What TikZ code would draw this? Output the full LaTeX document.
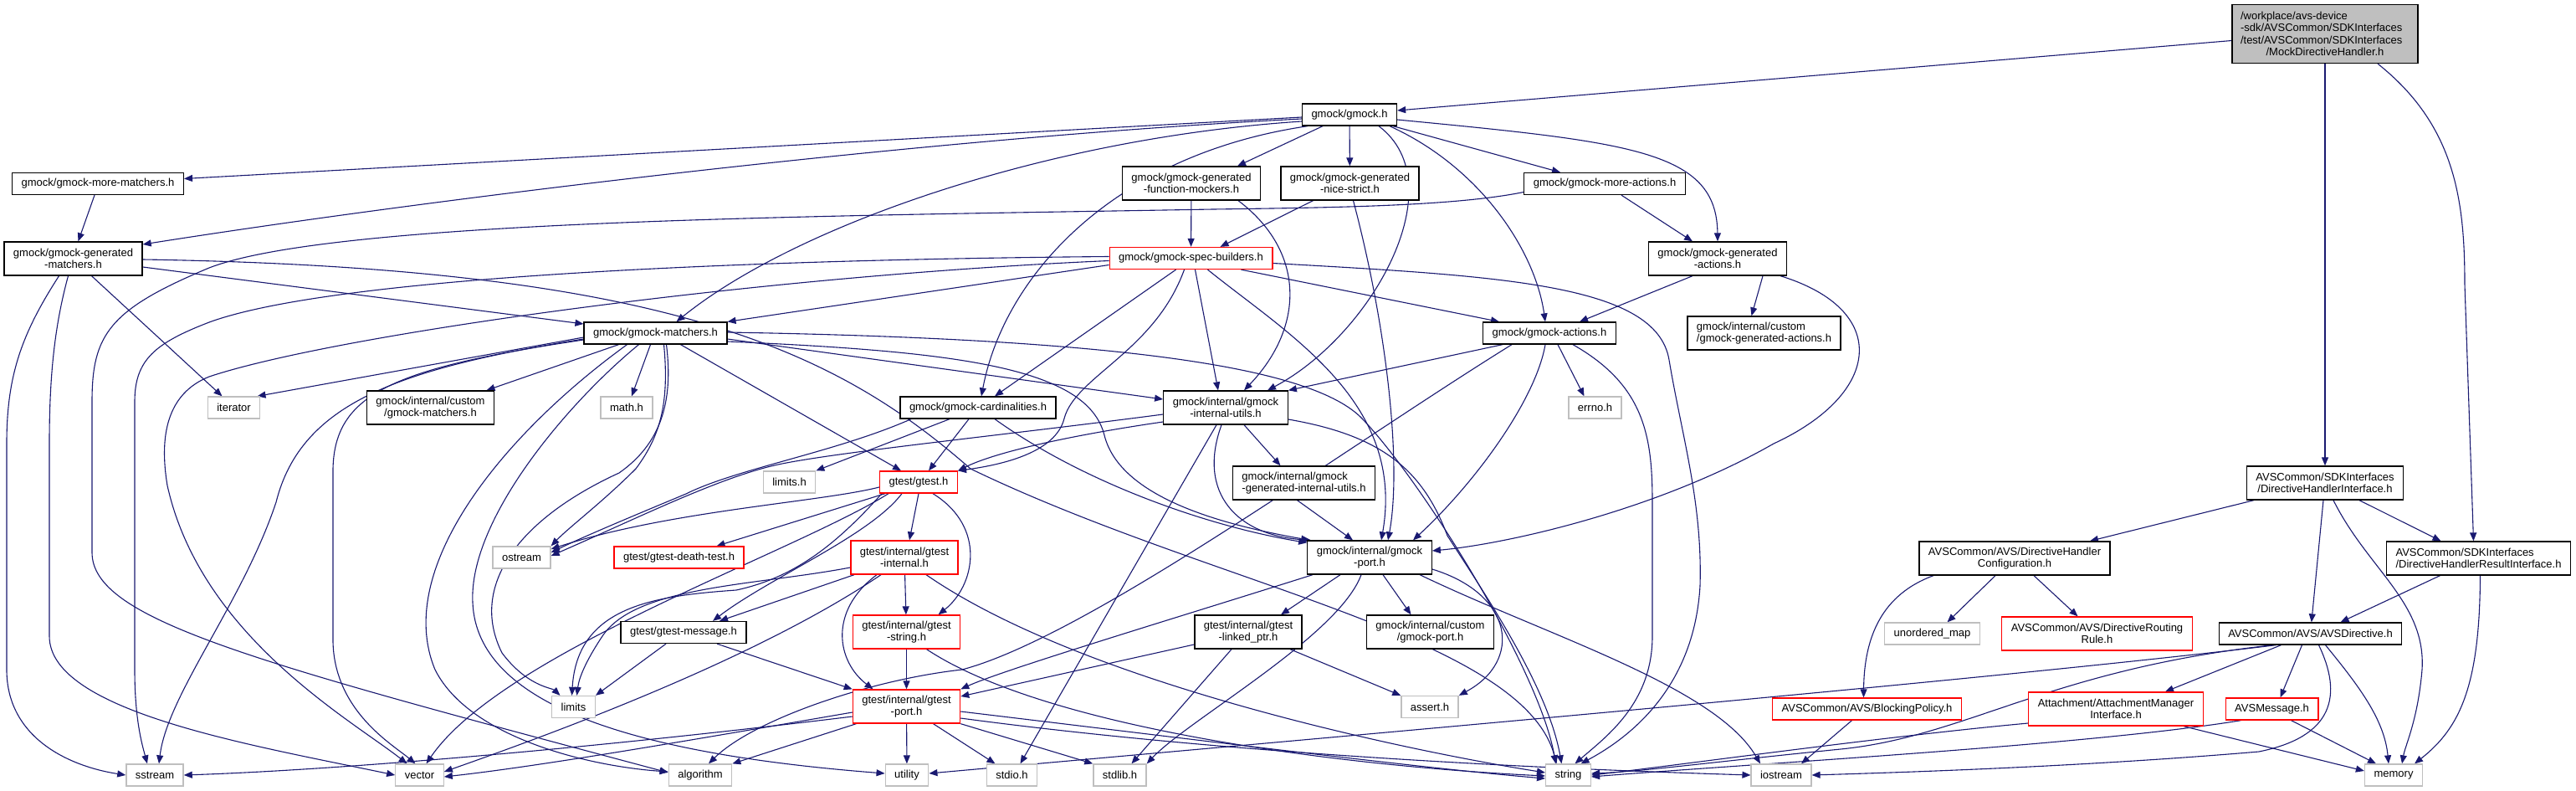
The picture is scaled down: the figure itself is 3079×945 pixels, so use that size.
\documentclass[tikz,border=0pt]{standalone}
\usepackage{fontspec}
\setmainfont{Liberation Sans}
\usetikzlibrary{arrows.meta}
\definecolor{edgeblue}{RGB}{25,25,112}
\definecolor{sysgrey}{RGB}{191,191,191}
\pgfdeclarelayer{bg}
\pgfsetlayers{bg,main}

\begin{document}
\begin{tikzpicture}[x=1pt, y=-1pt,
    hdr/.style={draw=black, fill=white, line width=1.3pt, font=\fontsize{13}{14}\selectfont, inner xsep=11pt, inner ysep=3pt, minimum height=26pt},
    part/.style={hdr, draw=red},
    sys/.style={hdr, draw=sysgrey},
    two/.style={align=center, minimum height=40pt},
    arr/.style={-{Triangle[length=10pt,width=8pt]}, edgeblue, line width=1.1pt}
  ]
  \useasboundingbox (0,0) rectangle (3079,945);

  \node[hdr, fill=sysgrey, align=left, text width=202pt, inner xsep=10pt, minimum height=70pt, font=\fontsize{13}{14.5}\selectfont] (main) at (2779,40.5)
    {/workplace/avs-device\\-sdk/AVSCommon/SDKInterfaces\\/test/AVSCommon/SDKInterfaces\\\makebox[202pt]{/MockDirectiveHandler.h}};

  \node[hdr] (gmock) at (1613,137) {gmock/gmock.h};
  \node[hdr] (moreMatchers) at (117,219.5) {gmock/gmock-more-matchers.h};
  \node[hdr, two] (funcMockers) at (1424,219) {gmock/gmock-generated\\-function-mockers.h};
  \node[hdr, two] (niceStrict) at (1613.5,219) {gmock/gmock-generated\\-nice-strict.h};
  \node[hdr] (moreActions) at (1918,219.5) {gmock/gmock-more-actions.h};
  \node[hdr, two] (genMatchers) at (87.5,309) {gmock/gmock-generated\\-matchers.h};
  \node[part] (specBuilders) at (1423.5,308.5) {gmock/gmock-spec-builders.h};
  \node[hdr, two] (genActions) at (2053,309) {gmock/gmock-generated\\-actions.h};
  \node[hdr] (matchers) at (783.5,398) {gmock/gmock-matchers.h};
  \node[hdr] (actions) at (1852,398) {gmock/gmock-actions.h};
  \node[hdr, two, align=left] (customGenActions) at (2108.5,398) {gmock/internal/custom\\/gmock-generated-actions.h};
  \node[sys] (iterator) at (279.5,487) {iterator};
  \node[hdr, two] (customMatchers) at (514.5,487) {gmock/internal/custom\\/gmock-matchers.h};
  \node[sys] (mathh) at (749,487) {math.h};
  \node[hdr] (cardinalities) at (1169,487) {gmock/gmock-cardinalities.h};
  \node[hdr, two] (internalUtils) at (1465,487) {gmock/internal/gmock\\-internal-utils.h};
  \node[sys] (errno) at (1906.5,487) {errno.h};
  \node[sys] (limitsh) at (943.5,576) {limits.h};
  \node[part] (gtest) at (1098,576) {gtest/gtest.h};
  \node[hdr, two, align=left] (genInternalUtils) at (1558.5,577) {gmock/internal/gmock\\-generated-internal-utils.h};
  \node[hdr, two] (dhInterface) at (2779,577) {AVSCommon/SDKInterfaces\\/DirectiveHandlerInterface.h};
  \node[sys] (ostream) at (623.5,666) {ostream};
  \node[part] (deathTest) at (811.5,666) {gtest/gtest-death-test.h};
  \node[part, two] (gtestInternal) at (1081,666) {gtest/internal/gtest\\-internal.h};
  \node[hdr, two] (gmockPort) at (1637,666) {gmock/internal/gmock\\-port.h};
  \node[hdr, two] (dhConfig) at (2408,667) {AVSCommon/AVS/DirectiveHandler\\Configuration.h};
  \node[hdr, two, align=left] (dhResult) at (2962.5,667) {AVSCommon/SDKInterfaces\\/DirectiveHandlerResultInterface.h};
  \node[hdr] (gtestMessage) at (817,755.5) {gtest/gtest-message.h};
  \node[part, two] (gtestString) at (1083.5,755) {gtest/internal/gtest\\-string.h};
  \node[hdr, two] (linkedPtr) at (1492,755) {gtest/internal/gtest\\-linked\_ptr.h};
  \node[hdr, two] (customGmockPort) at (1709.5,755) {gmock/internal/custom\\/gmock-port.h};
  \node[sys] (unorderedMap) at (2309.5,757) {unordered\_map};
  \node[part, two] (routingRule) at (2506.5,757) {AVSCommon/AVS/DirectiveRouting\\Rule.h};
  \node[hdr] (avsDirective) at (2761.5,757) {AVSCommon/AVS/AVSDirective.h};
  \node[sys] (limits) at (685.5,844.5) {limits};
  \node[part, two] (gtestPort) at (1083.5,844) {gtest/internal/gtest\\-port.h};
  \node[sys] (assert) at (1709,844.5) {assert.h};
  \node[part] (blockingPolicy) at (2231.5,847) {AVSCommon/AVS/BlockingPolicy.h};
  \node[part, two] (attachmentMgr) at (2529,847) {Attachment/AttachmentManager\\Interface.h};
  \node[part] (avsMessage) at (2715.5,847) {AVSMessage.h};
  \foreach \n/\t/\x in {sstream/sstream/185, vector/vector/501.5, algorithm/algorithm/837, utility/utility/1084,
      stdio/stdio.h/1209.5, stdlib/stdlib.h/1338.5, string/string/1874.5, iostream/iostream/2129, memory/memory/2861} {
    \node[sys] (\n) at (\x,926) {\t};
  }

  \begin{pgfonlayer}{bg}
  \draw[arr] ([yshift=-8pt]main.west) -- ([yshift=5pt]gmock.east);
  \draw[arr] (main) -- (dhInterface);
  \draw[arr] ([xshift=63pt]main.south) .. controls (2935,150) and (2946,240) .. (2946,340) -- ([xshift=-6pt]dhResult.north);

  \draw[arr] ([yshift=-3pt]gmock.west) -- ([yshift=6pt]moreMatchers.east);
  \draw[arr] ([yshift=-5pt]gmock.west) .. controls (1100,165) and (500,240) .. ([yshift=17pt]genMatchers.east);
  \draw[arr] ([yshift=-8pt]gmock.west) .. controls (1250,165) and (950,270) .. ([xshift=25pt]matchers.north);
  \draw[arr] ([xshift=-50pt]gmock.south) .. controls (1330,185) and (1200,330) .. ([xshift=4pt]cardinalities.north);
  \draw[arr] ([xshift=-32pt]gmock.south) -- ([xshift=55pt]funcMockers.north);
  \draw[arr] (gmock) -- (niceStrict);
  \draw[arr] ([xshift=35pt]gmock.south) .. controls (1740,220) and (1640,400) .. ([xshift=50pt]internalUtils.north);
  \draw[arr] ([xshift=48pt]gmock.south) .. controls (1770,200) and (1835,300) .. ([xshift=-5pt]actions.north);
  \draw[arr] ([xshift=52pt]gmock.south) -- ([xshift=-53pt]moreActions.north);
  \draw[arr] ([yshift=-6pt]gmock.east) .. controls (1950,170) and (2052,180) .. (genActions.north);

  \draw[arr] ([xshift=-4pt]moreMatchers.south) -- ([xshift=6pt]genMatchers.north);

  \draw[arr] ([yshift=-10pt]genMatchers.east) -- ([yshift=11pt]matchers.west);
  \draw[arr] ([yshift=-1pt]genMatchers.east) .. controls (800,320) and (1000,420) .. (1160,560) .. controls (1450,700) and (1820,760) .. ([xshift=-14pt]string.north);
  \draw[arr] ([xshift=22pt]genMatchers.south) -- ([xshift=-14pt]iterator.north);
  \draw[arr] ([xshift=-17pt]genMatchers.south) .. controls (25,400) and (8,450) .. (8,530) -- (8,800) .. controls (8,880) and (80,915) .. (sstream.west);
  \draw[arr] ([xshift=-6pt]genMatchers.south) .. controls (65,390) and (59,450) .. (59,530) -- (59,760) .. controls (59,850) and (300,890) .. (vector.west);

  \draw[arr] ([yshift=-5pt]matchers.west) -- ([xshift=28pt]iterator.north);
  \draw[arr] ([xshift=-44pt]matchers.south) -- ([xshift=67pt]customMatchers.north);
  \draw[arr] ([xshift=-6pt]matchers.south) -- ([xshift=6pt]mathh.north);
  \draw[arr] ([yshift=-7pt]matchers.west) .. controls (480,440) and (360,480) .. (330,600) .. controls (290,720) and (200,830) .. ([xshift=5pt]sstream.north);
  \draw[arr] ([yshift=-8pt]matchers.west) .. controls (470,440) and (400,470) .. (398,560) -- (398,767) .. controls (400,850) and (470,890) .. ([xshift=-5pt]vector.north);
  \draw[arr] ([xshift=10pt]matchers.south) .. controls (800,480) and (790,520) .. (760,560) .. controls (720,600) and (680,630) .. (ostream.north east);
  \draw[arr] ([xshift=13pt]matchers.south) .. controls (805,480) and (790,530) .. (740,565) .. controls (620,620) and (560,700) .. (600,780) .. controls (630,820) and (660,822) .. ([xshift=-16pt]limits.north);
  \draw[arr] ([xshift=-34pt]matchers.south) .. controls (600,520) and (470,680) .. (520,800) .. controls (560,880) and (700,915) .. ([yshift=4pt]algorithm.west);
  \draw[arr] ([xshift=-20pt]matchers.south) .. controls (680,480) and (560,620) .. (565,720) .. controls (570,840) and (750,900) .. ([yshift=2pt]utility.west);
  \draw[arr] ([yshift=1pt]matchers.east) .. controls (1350,405) and (1570,440) .. (1628,500) .. controls (1700,575) and (1840,800) .. ([xshift=-15pt]string.north);
  \draw[arr] ([yshift=-7pt]matchers.east) -- ([yshift=10pt]internalUtils.west);
  \draw[arr] ([yshift=-10pt]matchers.east) .. controls (1150,420) and (1300,440) .. (1320,520) .. controls (1340,600) and (1480,630) .. ([xshift=3pt]gmockPort.north west);
  \draw[arr] ([xshift=30pt]matchers.south) -- ([xshift=-21pt]gtest.north);

  \draw[arr] ([yshift=-8pt]specBuilders.west) -- (matchers.north east);
  \draw[arr] ([yshift=2pt]specBuilders.west) .. controls (900,310) and (400,330) .. (250,385) .. controls (185,410) and (161,430) .. (161,480) -- (161,800) .. controls (161,860) and (170,890) .. ([xshift=-9pt]sstream.north);
  \draw[arr] ([yshift=-3pt]specBuilders.west) .. controls (900,330) and (400,400) .. (250,450) .. controls (200,470) and (190,520) .. (200,580) .. controls (240,760) and (420,860) .. ([xshift=-15pt]vector.north);
  \draw[arr] ([yshift=-6pt]specBuilders.east) .. controls (1800,330) and (1980,340) .. (1995,430) .. controls (2010,520) and (2035,600) .. (2032,700) .. controls (2025,820) and (1950,880) .. ([xshift=15pt]string.north);
  \draw[arr] ([xshift=60pt]specBuilders.south) -- ([xshift=-60pt]actions.north);
  \draw[arr] ([xshift=-18pt]specBuilders.south) -- ([xshift=20pt]cardinalities.north);
  \draw[arr] ([xshift=-8pt]specBuilders.south) .. controls (1380,420) and (1285,450) .. (1272,500) .. controls (1262,540) and (1200,555) .. (gtest.north east);
  \draw[arr] ([xshift=5pt]specBuilders.south) -- ([xshift=-9pt]internalUtils.north);
  \draw[arr] ([xshift=20pt]specBuilders.south) .. controls (1540,400) and (1680,480) .. ([xshift=14pt]gmockPort.north);

  \draw[arr] (funcMockers) -- (specBuilders);
  \draw[arr] ([xshift=56pt]funcMockers.south) .. controls (1560,300) and (1560,390) .. ([xshift=22pt]internalUtils.north);
  \draw[arr] ([xshift=-44pt]niceStrict.south) -- ([xshift=35pt]specBuilders.north);
  \draw[arr] ([xshift=4pt]niceStrict.south) .. controls (1660,400) and (1675,560) .. ([xshift=22pt]gmockPort.north);

  \draw[arr] ([xshift=20pt]moreActions.south) -- ([xshift=-30pt]genActions.north);
  \draw[arr] ([yshift=-10pt]moreActions.west) .. controls (1740,246) and (1600,248) .. (1450,250) .. controls (1000,258) and (400,262) .. (250,320) .. controls (130,370) and (110,400) .. (110,480) -- (110,660) .. controls (110,740) and (300,790) .. ([yshift=3pt]algorithm.west);

  \draw[arr] ([xshift=-30pt]genActions.south) -- ([xshift=36pt]actions.north);
  \draw[arr] ([xshift=54pt]genActions.south) -- ([xshift=-15pt]customGenActions.north);
  \draw[arr] ([xshift=75pt]genActions.south) .. controls (2260,370) and (2250,470) .. (2120,530) .. controls (1980,610) and (1800,650) .. ([yshift=8pt]gmockPort.east);

  \draw[arr] ([xshift=10pt]actions.south) -- ([xshift=-13pt]errno.north);
  \draw[arr] ([xshift=-56pt]actions.south) -- (internalUtils.north east);
  \draw[arr] ([xshift=-5pt]actions.south) .. controls (1835,480) and (1760,580) .. ([xshift=52pt]gmockPort.north);
  \draw[arr] ([xshift=-45pt]actions.south) .. controls (1600,540) and (1300,760) .. (1150,800) .. controls (1040,812) and (900,860) .. ([xshift=10pt]algorithm.north);
  \draw[arr] ([xshift=28pt]actions.south) .. controls (1965,460) and (1975,520) .. (1975,600) -- (1975,760) .. controls (1975,840) and (1920,880) .. ([xshift=8pt]string.north);

  \draw[arr] ([xshift=-34pt]cardinalities.south) -- (limitsh.north east);
  \draw[arr] ([xshift=-80pt]cardinalities.south) .. controls (1000,540) and (880,560) .. (820,590) .. controls (760,615) and (700,640) .. ([yshift=6pt]ostream.east);
  \draw[arr] ([xshift=-11pt]cardinalities.south) -- ([xshift=12pt]gtest.north);
  \draw[arr] ([xshift=20pt]cardinalities.south) .. controls (1300,580) and (1450,630) .. ([yshift=-3pt]gmockPort.north west);

  \draw[arr] ([xshift=-11pt]internalUtils.south) -- ([xshift=10pt]stdio.north);
  \draw[arr] ([xshift=22pt]internalUtils.south) -- ([xshift=-28pt]genInternalUtils.north);
  \draw[arr] ([xshift=-5pt]internalUtils.south) .. controls (1430,590) and (1480,640) .. ([xshift=5pt]gmockPort.north west);
  \draw[arr] ([yshift=-14pt]internalUtils.east) .. controls (1650,520) and (1700,560) .. (1730,640) .. controls (1775,710) and (1850,820) .. ([xshift=-8pt]string.north);
  \draw[arr] ([yshift=-8pt]internalUtils.west) .. controls (1200,520) and (1000,540) .. (930,555) .. controls (860,570) and (760,620) .. ([yshift=2pt]ostream.east);
  \draw[arr] ([yshift=-17pt]internalUtils.west) .. controls (1280,520) and (1190,540) .. (gtest.north east);

  \draw[arr] (genInternalUtils.south) ++(-8pt,0) -- ([xshift=-20pt]gmockPort.north);

  \draw[arr] (gtest.south) -- ([xshift=6pt]gtestInternal.north);
  \draw[arr] ([xshift=17pt]gtest.south) .. controls (1180,630) and (1165,700) .. ([xshift=38pt]gtestString.north);
  \draw[arr] ([xshift=-20pt]gtest.south) .. controls (1040,640) and (920,690) .. ([xshift=35pt]gtestMessage.north);
  \draw[arr] ([xshift=-40pt]gtest.south) -- ([xshift=45pt]deathTest.north);
  \draw[arr] ([yshift=-6pt]gtest.west) .. controls (980,600) and (800,610) .. ([yshift=10pt]ostream.east);
  \draw[arr] ([xshift=-44pt]gtest.south) .. controls (1000,650) and (950,690) .. (880,705) .. controls (780,712) and (690,725) .. ([xshift=-2pt]limits.north);
  \draw[arr] ([xshift=-36pt]gtest.south) .. controls (950,660) and (600,780) .. ([xshift=8pt]vector.north);

  \draw[arr] (gtestInternal) -- (gtestString);
  \draw[arr] ([xshift=-33pt]gtestInternal.south) .. controls (990,730) and (1000,790) .. ([xshift=-40pt]gtestPort.north);
  \draw[arr] ([xshift=-60pt]gtestInternal.south) -- ([xshift=43pt]gtestMessage.north);
  \draw[arr] ([xshift=-28pt]gtestInternal.south) .. controls (900,790) and (650,880) .. ([yshift=4pt]vector.east);
  \draw[arr] ([yshift=-12pt]gtestInternal.west) .. controls (900,700) and (760,700) .. (720,760) .. controls (700,790) and (692,810) .. ([xshift=4pt]limits.north);
  \draw[arr] ([xshift=26pt]gtestInternal.south) .. controls (1300,820) and (1700,900) .. ([yshift=3pt]string.west);

  \draw[arr] ([xshift=-21pt]gtestMessage.south) -- (limits.north east);
  \draw[arr] ([xshift=40pt]gtestMessage.south) -- (gtestPort.north west);
  \draw[arr] (gtestString) -- (gtestPort);
  \draw[arr] ([xshift=24pt]gtestString.south) .. controls (1250,870) and (1600,915) .. ([yshift=-1pt]string.west);

  \draw[arr] (gtestPort) -- (utility);
  \draw[arr] ([xshift=32pt]gtestPort.south) -- ([xshift=-20pt]stdio.north);
  \draw[arr] (gtestPort.south east) -- (stdlib.north west);
  \draw[arr] ([xshift=-60pt]gtestPort.south) -- (algorithm.north east);
  \draw[arr] ([yshift=-7pt]gtestPort.west) .. controls (850,880) and (650,915) .. ([yshift=-2pt]vector.east);
  \draw[arr] ([yshift=-12pt]gtestPort.west) .. controls (700,895) and (400,920) .. (sstream.east);
  \draw[arr] ([yshift=-6pt]gtestPort.east) .. controls (1400,880) and (1700,918) .. ([yshift=-4pt]string.west);
  \draw[arr] ([yshift=-14pt]gtestPort.east) .. controls (1500,905) and (1900,920) .. (iostream.west);

  \draw[arr] ([xshift=-35pt]gmockPort.south) -- ([xshift=39pt]linkedPtr.north);
  \draw[arr] ([xshift=16pt]gmockPort.south) -- ([xshift=-23pt]customGmockPort.north);
  \draw[arr] ([yshift=-14pt]gmockPort.east) .. controls (1810,710) and (1820,790) .. (assert.north east);
  \draw[arr] ([xshift=60pt]gmockPort.south) .. controls (1850,760) and (2050,820) .. ([xshift=-25pt]iostream.north);
  \draw[arr] ([xshift=-68pt]gmockPort.south) .. controls (1400,740) and (1200,800) .. (gtestPort.north east);
  \draw[arr] ([xshift=-10pt]gmockPort.south) .. controls (1600,760) and (1420,860) .. (stdlib.north east);

  \draw[arr] ([xshift=-20pt]linkedPtr.south) -- ([xshift=14pt]stdlib.north);
  \draw[arr] ([xshift=50pt]linkedPtr.south) -- (assert.north west);
  \draw[arr] ([yshift=-15pt]linkedPtr.west) -- ([yshift=12pt]gtestPort.east);

  \draw[arr] ([xshift=-85pt]dhInterface.south) -- ([xshift=90pt]dhConfig.north);
  \draw[arr] (dhInterface) -- (avsDirective);
  \draw[arr] ([xshift=41pt]dhInterface.south) -- ([xshift=-45pt]dhResult.north);
  \draw[arr] ([xshift=10pt]dhInterface.south) .. controls (2830,680) and (2900,720) .. (2895,800) .. controls (2890,860) and (2875,890) .. ([xshift=10pt]memory.north);
  \draw[arr] ([xshift=-46pt]dhResult.south) -- ([xshift=36pt]avsDirective.north);
  \draw[arr] ([xshift=2pt]dhResult.south) .. controls (2964,820) and (2940,870) .. ([xshift=25pt]memory.north);
  \draw[arr] ([xshift=-23pt]dhConfig.south) -- ([xshift=18pt]unorderedMap.north);
  \draw[arr] ([xshift=23pt]dhConfig.south) -- ([xshift=-23pt]routingRule.north);
  \draw[arr] ([xshift=-97pt]dhConfig.south) .. controls (2250,710) and (2228,760) .. ([xshift=-4pt]blockingPolicy.north);

  \draw[arr] ([xshift=-35pt]avsDirective.south) -- ([xshift=59pt]attachmentMgr.north);
  \draw[arr] ([xshift=-10pt]avsDirective.south) -- ([xshift=10pt]avsMessage.north);
  \draw[arr] ([xshift=18pt]avsDirective.south) .. controls (2820,820) and (2850,860) .. ([xshift=-6pt]memory.north);
  \draw[arr] ([xshift=10pt]avsDirective.south) .. controls (2800,830) and (2790,880) .. (2700,898) .. controls (2500,915) and (2300,922) .. (iostream.east);
  \draw[arr] ([xshift=-41pt]avsDirective.south) .. controls (2400,810) and (1600,880) .. ([yshift=2pt]utility.east);
  \draw[arr] ([xshift=-45pt]avsDirective.south) .. controls (2450,800) and (2350,880) .. (2200,895) .. controls (2050,910) and (1960,922) .. ([yshift=2pt]string.east);

  \draw[arr] ([yshift=-17pt]attachmentMgr.west) .. controls (2250,880) and (2000,915) .. (string.east);
  \draw[arr] ([xshift=81pt]attachmentMgr.south) -- ([yshift=5pt]memory.west);
  \draw[arr] ([xshift=-37pt]avsMessage.south) .. controls (2500,890) and (2100,912) .. ([yshift=-2pt]string.east);
  \draw[arr] ([xshift=23pt]avsMessage.south) -- ([xshift=-21pt]memory.north);
  \draw[arr] ([xshift=-18pt]blockingPolicy.south) -- ([xshift=24pt]iostream.north);
  \end{pgfonlayer}
\end{tikzpicture}
\end{document}
